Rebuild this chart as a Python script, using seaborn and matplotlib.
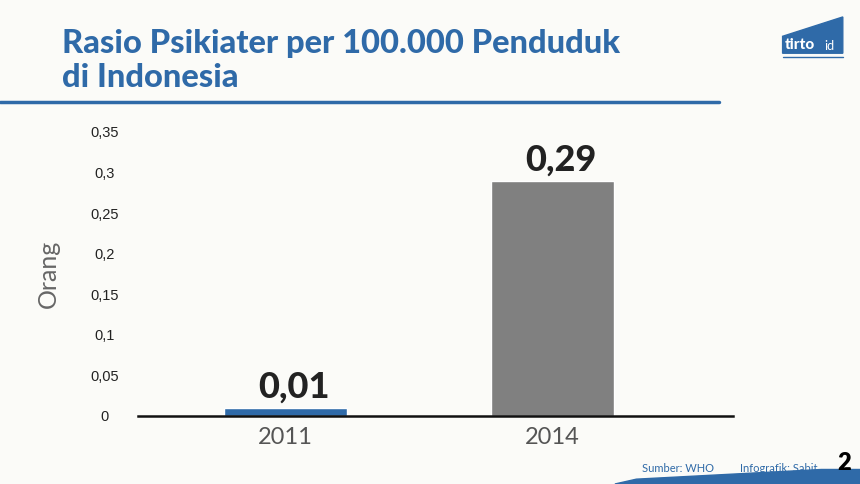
import matplotlib
matplotlib.use("Agg")
import matplotlib.pyplot as plt
import matplotlib.patches as mpatches
import seaborn as sns
import pandas as pd

years = ["2011", "2014"]
values = [0.01, 0.29]
value_labels = ["0,01", "0,29"]
yticks = [0, 0.05, 0.1, 0.15, 0.2, 0.25, 0.3, 0.35]
ytick_labels = ["0", "0,05", "0,1", "0,15", "0,2", "0,25", "0,3", "0,35"]
colors = ["#2f6aa8", "#808080"]

sns.set_style("white")
plt.rcParams['font.family'] = ['Lato', 'DejaVu Sans']
bg = "#fbfbf8"
fig = plt.figure(figsize=(8.6, 4.84), dpi=100, facecolor=bg)
ax = fig.add_axes([0.16, 0.1405, 0.692, 0.587], facecolor=bg)
df = pd.DataFrame({"year": years, "v": values})
sns.barplot(data=df, x="year", y="v", hue="year", palette=colors, width=0.46,
            legend=False, ax=ax, saturation=1)
ax.set_xlim(-0.554, 1.674)
ax.set_ylim(0, 0.35)
ax.set_yticks(yticks)
ax.set_yticklabels(ytick_labels, family="Liberation Sans", fontsize=10.5, color="#222", ha="center")
ax.tick_params(axis="y", length=0, pad=24)
ax.tick_params(axis="x", length=0, pad=8, labelsize=17, labelcolor="#555")
for s in ["top", "right", "left"]:
    ax.spines[s].set_visible(False)
ax.spines["bottom"].set_linewidth(1.8)
ax.spines["bottom"].set_color("#111")
ax.set_xlabel("")
ax.set_ylabel("Orang", fontsize=18, color="#666", labelpad=22)
for i, (v, t) in enumerate(zip(values, value_labels)):
    ax.text(i + 0.03, v + 0.005, t, ha="center", va="bottom", fontsize=26, fontweight="black", color="#222")

fig.text(0.072, 0.91, "Rasio Psikiater per 100.000 Penduduk", fontsize=23.5, fontweight="black", color="#2f6aa8", va="center")
fig.text(0.072, 0.84, "di Indonesia", fontsize=23.5, fontweight="black", color="#2f6aa8", va="center")
fig.add_artist(plt.Line2D([0, 0.836], [0.79, 0.79], color="#2f6aa8", lw=2.5))
# logo
fig.add_artist(mpatches.Polygon([(0.910, 0.925), (0.980, 0.965), (0.980, 0.890), (0.910, 0.890)],
                                 closed=True, color="#2f6aa8"))
fig.text(0.913, 0.893, "tirto", fontsize=11, fontweight="black", color="white", va="bottom")
fig.text(0.958, 0.893, "id", fontsize=9, color="white", va="bottom")
fig.add_artist(plt.Line2D([0.910, 0.980], [0.882, 0.882], color="#2f6aa8", lw=1))
# footer
fig.add_artist(mpatches.Polygon([(0.715, 0.0), (0.74, 0.01), (0.955, 0.03), (1, 0.03), (1, 0)],
                                 closed=True, color="#2f6aa8"))
fig.text(0.83, 0.02, "Sumber: WHO", fontsize=8, color="#2f6aa8", ha="right", va="bottom")
fig.text(0.95, 0.02, "Infografik: Sabit", fontsize=8, color="#2f6aa8", ha="right", va="bottom")
fig.text(0.973, 0.02, "2", fontsize=17, fontweight="heavy", color="black", va="bottom")
fig.savefig("out.png", dpi=100, facecolor=bg)
